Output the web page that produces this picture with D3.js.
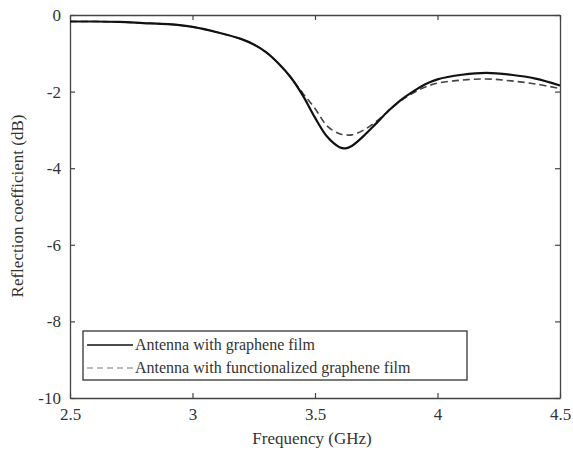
<!DOCTYPE html>
<html>
<head>
<meta charset="utf-8">
<script src="https://cdn.jsdelivr.net/npm/d3@7"></script>
<style>
  body { margin: 0; background: #fff; }
  text { font-family: "Liberation Serif", "Times New Roman", serif; fill: #333; }
</style>
</head>
<body>
<svg id="chart" width="573" height="452"></svg>
<script>
// frequency (GHz)
var freq = [2.5, 2.6, 2.7, 2.8, 2.9, 3.0, 3.1, 3.2, 3.25, 3.3, 3.35, 3.4, 3.45, 3.5, 3.55,
            3.6, 3.625, 3.65, 3.7, 3.75, 3.8, 3.85, 3.9, 3.95, 4.0, 4.1, 4.2, 4.3, 4.4, 4.5];
// Antenna with graphene film (dB)
var graphene = [-0.17, -0.17, -0.18, -0.21, -0.24, -0.31, -0.45, -0.63, -0.77, -0.97, -1.26, -1.62, -2.10, -2.68, -3.18,
                -3.45, -3.48, -3.42, -3.15, -2.83, -2.50, -2.22, -2.00, -1.81, -1.68, -1.56, -1.51, -1.56, -1.66, -1.84];
// Antenna with functionalized graphene film (dB)
var functionalized = [-0.17, -0.17, -0.18, -0.21, -0.24, -0.31, -0.45, -0.63, -0.77, -0.97, -1.26, -1.62, -2.04, -2.44, -2.90,
                      -3.10, -3.13, -3.13, -3.00, -2.78, -2.50, -2.24, -2.04, -1.88, -1.78, -1.70, -1.67, -1.72, -1.80, -1.92];
var xTicks = [2.5, 3, 3.5, 4, 4.5];
var yTicks = [0, -2, -4, -6, -8, -10];
var legendLabels = ["Antenna with graphene film", "Antenna with functionalized graphene film"];

var svg = d3.select("#chart");
var pLeft = 70, pRight = 560, pTop = 15, pBottom = 398;

var x = d3.scaleLinear().domain([2.5, 4.5]).range([pLeft, pRight]);
var y = d3.scaleLinear().domain([-10, 0]).range([pBottom, pTop]);

// axes (ticks inward, mirrored on top/right), plain hyphen minus like the original
svg.append("g").attr("transform", `translate(0,${pBottom})`)
    .call(d3.axisBottom(x).tickValues(xTicks).tickSizeInner(-5).tickSizeOuter(0).tickPadding(10).tickFormat(d => String(d)));
svg.append("g").attr("transform", `translate(${pLeft},0)`)
    .call(d3.axisLeft(y).tickValues(yTicks).tickSizeInner(-5).tickSizeOuter(0).tickPadding(9).tickFormat(d => String(d)));
svg.append("g").attr("transform", `translate(0,${pTop})`)
    .call(d3.axisTop(x).tickValues(xTicks).tickSizeInner(-5).tickSizeOuter(0).tickFormat(""));
svg.append("g").attr("transform", `translate(${pRight},0)`)
    .call(d3.axisRight(y).tickValues(yTicks).tickSizeInner(-5).tickSizeOuter(0).tickFormat(""));

svg.selectAll(".domain").attr("stroke", "#444").attr("stroke-width", 1.3);
svg.selectAll(".tick line").attr("stroke", "#444").attr("stroke-width", 1.2);
svg.selectAll(".tick text").attr("font-size", 17).attr("fill", "#333")
    .style("font-family", "Liberation Serif");

// axis titles
svg.append("text").attr("x", 312).attr("y", 444).attr("text-anchor", "middle")
    .attr("font-size", 17).text("Frequency (GHz)");
svg.append("text").attr("transform", "translate(23,206) rotate(-90)").attr("text-anchor", "middle")
    .attr("font-size", 17).text("Reflection coefficient (dB)");

// curves
var line = function(vals){
    return d3.line().x((d, i) => x(freq[i])).y(d => y(d)).curve(d3.curveCatmullRom.alpha(0.5))(vals);
};
svg.append("path").attr("d", line(functionalized)).attr("fill", "none")
    .attr("stroke", "#444").attr("stroke-width", 1.6).attr("stroke-dasharray", "7,4");
svg.append("path").attr("d", line(graphene)).attr("fill", "none")
    .attr("stroke", "#111").attr("stroke-width", 2.2);

// legend
var lg = svg.append("g");
lg.append("rect").attr("x", 83).attr("y", 331).attr("width", 384).attr("height", 49)
    .attr("fill", "#fff").attr("stroke", "#333").attr("stroke-width", 1.3);
lg.append("line").attr("x1", 87).attr("x2", 133).attr("y1", 345).attr("y2", 345)
    .attr("stroke", "#111").attr("stroke-width", 1.6);
lg.append("line").attr("x1", 87).attr("x2", 133).attr("y1", 368).attr("y2", 368)
    .attr("stroke", "#777").attr("stroke-width", 1.2).attr("stroke-dasharray", "6,4");
lg.selectAll("text.lab").data(legendLabels).enter().append("text")
    .attr("class", "lab").attr("x", 135).attr("y", (d, i) => 350 + i * 23)
    .attr("font-size", 16).attr("fill", "#111").text(d => d);
</script>
</body>
</html>
